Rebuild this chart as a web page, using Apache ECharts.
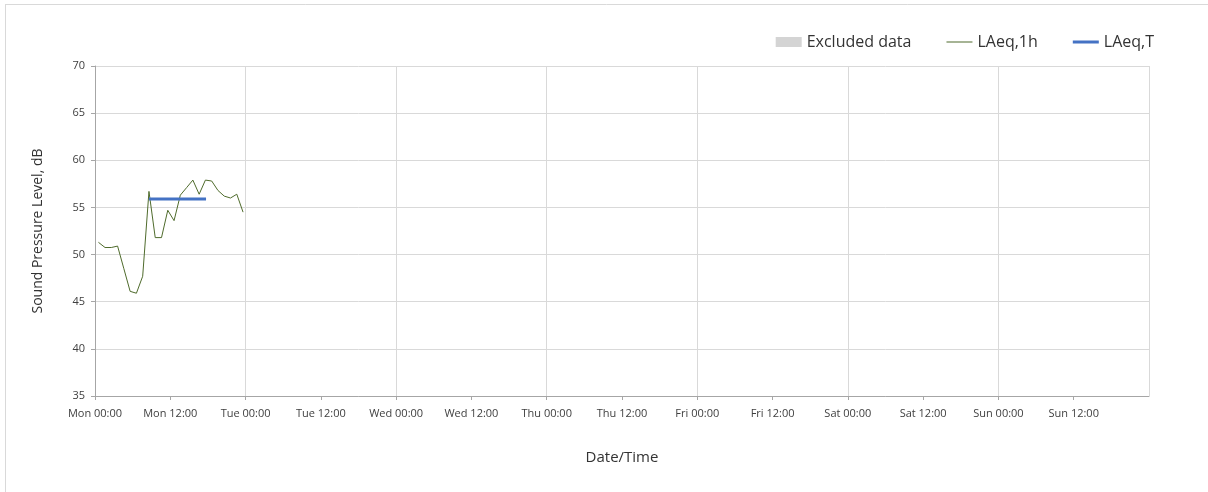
<!DOCTYPE html>
<html>
<head>
<meta charset="utf-8">
<script src="https://cdn.jsdelivr.net/npm/echarts@6/dist/echarts.min.js"></script>
<style>html,body{margin:0;padding:0;background:#fff}#c{width:1208px;height:492px}</style>
</head>
<body>
<div id="c"></div>
<script>
// Hours since Mon 00:00
const dayNames = ['Mon', 'Tue', 'Wed', 'Thu', 'Fri', 'Sat', 'Sun', 'Mon'];
const yTicks = [35, 40, 45, 50, 55, 60, 65, 70];
const hourlyTimes = [0.55, 1.6, 2.6, 3.6, 4.6, 5.6, 6.6, 7.6, 8.6, 9.6, 10.6, 11.6, 12.6, 13.6, 14.6, 15.6, 16.6, 17.6, 18.6, 19.6, 20.6, 21.6, 22.6, 23.6];
const hourlyValues = [51.3, 50.75, 50.75, 50.9, 48.5, 46.1, 45.9, 47.7, 56.7, 51.8, 51.8, 54.7, 53.6, 56.3, 57.1, 57.9, 56.4, 57.9, 57.8, 56.8, 56.2, 56.0, 56.4, 54.5];
const periodTimes = [8.6, 17.7];
const periodValues = [55.9, 55.9];
const excludedData = [];

const font = "'Open Sans', 'Noto Sans', sans-serif";
const thinIcon = 'path://M0,0h0.01v0.01h-0.01z M0,4.5H26V5.5H0Z M25.99,9.99h0.01v0.01h-0.01z';
const thickIcon = 'path://M0,0h0.01v0.01h-0.01z M0,3.5H26V6.5H0Z M25.99,9.99h0.01v0.01h-0.01z';
const chart = echarts.init(document.getElementById('c'));
chart.setOption({
  animation: false,
  backgroundColor: '#fff',
  graphic: [
    { type: 'line', shape: { x1: 5, y1: 4.5, x2: 1208, y2: 4.5 }, style: { stroke: '#d9d9d9', lineWidth: 1 } },
    { type: 'line', shape: { x1: 5.5, y1: 4, x2: 5.5, y2: 492 }, style: { stroke: '#d9d9d9', lineWidth: 1 } }
  ],
  legend: {
    top: 29, right: 49, itemGap: 35, itemWidth: 26, itemHeight: 10,
    textStyle: { fontFamily: font, fontSize: 16, color: '#333' },
    data: [
      { name: 'Excluded data', icon: 'rect' },
      { name: 'LAeq,1h', icon: thinIcon },
      { name: 'LAeq,T', icon: thickIcon }
    ]
  },
  grid: { left: 95, right: 59, top: 66, bottom: 96 },
  xAxis: [{
    type: 'value', min: 0, max: 168, interval: 12,
    name: 'Date/Time', nameLocation: 'middle', nameGap: 54,
    nameTextStyle: { fontFamily: font, fontSize: 15, color: '#333' },
    axisLine: { lineStyle: { color: '#a6a6a6' } },
    axisTick: { show: true, length: 4, lineStyle: { color: '#a6a6a6' } },
    splitLine: { show: false },
    axisLabel: {
      fontFamily: font, fontSize: 11, color: '#404040', margin: 12, showMaxLabel: false,
      formatter: v => dayNames[Math.floor(v / 24)] + ' ' + (v % 24 === 0 ? '00:00' : '12:00')
    }
  }, {
    type: 'value', min: 0, max: 168, interval: 24, position: 'bottom',
    axisLine: { show: false }, axisTick: { show: false },
    axisLabel: { show: false },
    splitLine: { show: true, lineStyle: { color: '#d9d9d9' } }
  }],
  yAxis: {
    type: 'value', min: yTicks[0], max: yTicks[yTicks.length - 1], interval: 5,
    name: 'Sound Pressure Level, dB', nameLocation: 'middle', nameGap: 50,
    nameTextStyle: { fontFamily: font, fontSize: 14, color: '#333' },
    axisLine: { show: true, lineStyle: { color: '#a6a6a6' } },
    axisTick: { show: true, length: 4, lineStyle: { color: '#a6a6a6' } },
    axisLabel: { fontFamily: font, fontSize: 11, color: '#404040', margin: 10 },
    splitLine: { show: true, lineStyle: { color: '#d9d9d9' } }
  },
  series: [
    { name: 'Excluded data', type: 'bar', data: excludedData, itemStyle: { color: '#d4d4d4' } },
    {
      name: 'LAeq,1h', type: 'line', showSymbol: false, symbol: 'none',
      data: hourlyTimes.map((t, i) => [t, hourlyValues[i]]),
      lineStyle: { color: '#4f6b2c', width: 1 }, itemStyle: { color: '#4f6b2c' }
    },
    {
      name: 'LAeq,T', type: 'line', showSymbol: false, symbol: 'none',
      data: periodTimes.map((t, i) => [t, periodValues[i]]),
      lineStyle: { color: '#4472c4', width: 3 }, itemStyle: { color: '#4472c4' }
    }
  ]
});
</script>
</body>
</html>
